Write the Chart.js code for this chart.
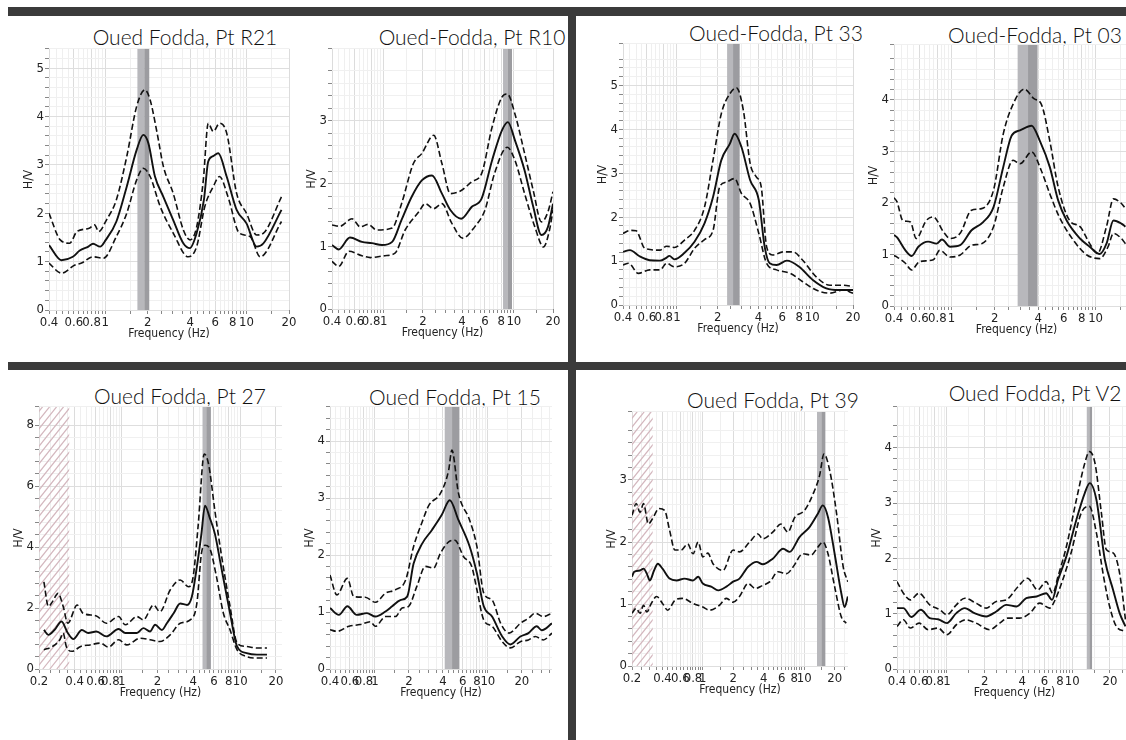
<!DOCTYPE html>
<html>
<head>
<meta charset="utf-8">
<script src="https://cdn.jsdelivr.net/npm/chart.js@4.4.1/dist/chart.umd.min.js"></script>
<style>
    body { margin: 0; background: #fff; }
    #page { position: relative; width: 1126px; height: 740px; overflow: hidden; background: #fff; }
    .bar { position: absolute; background: #3b3b3b; }
    .ttl { position: absolute; width: 300px; text-align: center; font-family: Lato, 'Open Sans', sans-serif;
           font-weight: 300; font-size: 21px; line-height: 24px; color: #111; white-space: nowrap; }
    canvas { position: absolute; }
</style>
</head>
<body>
<div id="page">
    <div class="bar" style="left:8px;top:7px;width:1118px;height:9px"></div>
    <div class="bar" style="left:8px;top:362px;width:1118px;height:8px"></div>
    <div class="bar" style="left:568px;top:7px;width:8px;height:733px"></div>
</div>
<script>
'use strict';

// tick labels shown on the frequency axis
var xTickLabels = [0.2, 0.4, 0.6, 0.8, 1, 2, 4, 6, 8, 10, 20];

// Pt R21
var r21MeanF = [0.4, 0.49, 0.59, 0.66, 0.76, 0.82, 0.92, 1.01, 1.2, 1.42, 1.67, 1.86, 2.02, 2.25, 2.58, 3.03, 3.57, 3.98, 4.44, 5.0, 5.36, 5.8, 6.31, 7.24, 8.52, 10, 11.8, 13.2, 17.7];
var r21Mean  = [1.34, 1.03, 1.10, 1.23, 1.31, 1.37, 1.31, 1.45, 1.83, 2.55, 3.31, 3.62, 3.45, 2.76, 2.34, 1.86, 1.38, 1.28, 1.59, 2.28, 3.07, 3.18, 3.24, 2.76, 2.07, 1.79, 1.31, 1.38, 2.07];
var r21HiF   = [0.4, 0.48, 0.56, 0.63, 0.77, 0.84, 0.9, 1.02, 1.2, 1.42, 1.67, 1.91, 2.08, 2.33, 2.58, 3.03, 3.57, 3.98, 4.44, 4.95, 5.36, 5.82, 6.45, 7.24, 8.52, 10, 11.8, 13.2, 17.7];
var r21Hi    = [2.0, 1.45, 1.38, 1.62, 1.69, 1.76, 1.62, 1.86, 2.28, 3.17, 4.21, 4.55, 4.34, 3.66, 2.97, 2.41, 1.66, 1.45, 1.72, 2.69, 3.86, 3.69, 3.86, 3.66, 2.41, 2.0, 1.55, 1.59, 2.34];
var r21LoF   = [0.4, 0.49, 0.61, 0.68, 0.82, 0.97, 1.2, 1.42, 1.67, 1.86, 2.08, 2.45, 3.03, 3.87, 4.44, 5.07, 5.82, 6.45, 7.4, 8.9, 10.6, 12.5, 17.7];
var r21Lo    = [0.97, 0.76, 0.93, 0.97, 1.10, 1.07, 1.52, 2.0, 2.69, 2.93, 2.76, 2.14, 1.59, 1.10, 1.31, 2.14, 2.55, 2.76, 2.34, 1.59, 1.52, 1.10, 1.83];
var r21Band  = [1.69, 1.89, 2.05];

// Pt R10
var r10MeanF = [0.4, 0.45, 0.55, 0.68, 0.81, 0.97, 1.16, 1.37, 1.64, 1.96, 2.35, 2.8, 3.25, 3.94, 4.75, 5.65, 6.8, 8.1, 9.0, 10.2, 12.1, 14.1, 16.3, 18.3, 20];
var r10Mean  = [1.02, 0.95, 1.14, 1.07, 1.05, 1.02, 1.07, 1.42, 1.79, 2.05, 2.13, 1.84, 1.58, 1.44, 1.63, 1.76, 2.37, 2.85, 2.98, 2.69, 2.21, 1.63, 1.18, 1.31, 1.68];
var r10HiF   = [0.4, 0.46, 0.57, 0.66, 0.76, 0.88, 1.16, 1.37, 1.69, 1.96, 2.42, 2.8, 3.25, 3.94, 4.75, 5.65, 6.8, 8.1, 8.9, 10.2, 12.1, 14.1, 16.3, 18.3, 20];
var r10Hi    = [1.34, 1.32, 1.44, 1.31, 1.35, 1.26, 1.29, 1.68, 2.32, 2.48, 2.77, 2.32, 1.84, 1.89, 2.03, 2.16, 2.90, 3.38, 3.43, 3.11, 2.48, 1.89, 1.39, 1.55, 1.87];
var r10LoF   = [0.4, 0.45, 0.54, 0.68, 0.79, 1.02, 1.22, 1.46, 1.86, 2.08, 2.42, 2.8, 3.33, 4.05, 5.0, 6.0, 7.1, 8.9, 10.2, 12.1, 14.5, 16.9, 18.8, 20];
var r10Lo    = [0.76, 0.68, 0.92, 0.85, 0.82, 0.85, 0.89, 1.26, 1.55, 1.68, 1.60, 1.68, 1.37, 1.13, 1.31, 1.58, 2.16, 2.58, 2.37, 1.84, 1.31, 0.99, 1.26, 1.58];
var r10Band  = [8.26, 8.95, 9.68];

// Pt 33
var p33MeanF = [0.4, 0.45, 0.53, 0.63, 0.75, 0.84, 0.88, 0.96, 1.14, 1.35, 1.6, 1.85, 2.13, 2.46, 2.67, 3.0, 3.48, 4.03, 4.45, 4.85, 5.45, 6.5, 8.0, 10.1, 12.7, 15.8, 20];
var p33Mean  = [1.21, 1.25, 1.11, 1.02, 1.01, 1.08, 1.12, 1.04, 1.19, 1.44, 1.86, 2.46, 3.30, 3.67, 3.90, 3.60, 2.84, 2.39, 1.33, 0.95, 0.91, 1.01, 0.87, 0.57, 0.38, 0.34, 0.34];
var p33HiF   = [0.4, 0.45, 0.5, 0.58, 0.75, 0.84, 0.96, 1.14, 1.35, 1.6, 1.85, 2.13, 2.46, 2.75, 3.1, 3.48, 3.86, 4.2, 4.6, 5.1, 6.1, 7.2, 8.5, 10.7, 13.5, 16.9, 20];
var p33Hi    = [1.63, 1.70, 1.69, 1.29, 1.25, 1.34, 1.31, 1.48, 1.70, 2.23, 3.30, 4.36, 4.81, 4.95, 4.43, 3.22, 2.92, 2.69, 1.33, 1.14, 1.21, 1.21, 1.02, 0.64, 0.45, 0.45, 0.42];
var p33LoF   = [0.4, 0.44, 0.52, 0.63, 0.75, 0.84, 0.96, 1.14, 1.35, 1.6, 1.85, 2.07, 2.32, 2.67, 3.0, 3.48, 4.03, 4.6, 5.45, 6.9, 8.5, 10.7, 13.5, 16.9, 20];
var p33Lo    = [0.91, 0.95, 0.72, 0.80, 0.80, 0.95, 0.87, 0.95, 1.29, 1.49, 1.70, 2.69, 2.80, 2.88, 2.54, 2.31, 1.63, 0.95, 0.80, 0.72, 0.53, 0.34, 0.27, 0.34, 0.27];
var p33Band  = [2.35, 2.60, 2.91];

// Pt 03
var p03MeanF = [0.4, 0.42, 0.48, 0.53, 0.59, 0.69, 0.79, 0.86, 0.98, 1.15, 1.38, 1.66, 1.96, 2.29, 2.62, 2.99, 3.6, 4.1, 4.81, 5.5, 6.3, 7.8, 9.1, 10.7, 11.9, 13.3, 15.1, 16.1];
var p03Mean  = [1.38, 1.33, 1.08, 0.97, 1.15, 1.25, 1.21, 1.29, 1.15, 1.18, 1.47, 1.63, 1.92, 2.70, 3.31, 3.41, 3.50, 3.21, 2.70, 2.05, 1.66, 1.31, 1.15, 1.01, 1.21, 1.66, 1.60, 1.54];
var p03HiF   = [0.4, 0.42, 0.46, 0.52, 0.57, 0.67, 0.75, 0.88, 0.98, 1.15, 1.38, 1.62, 1.96, 2.29, 2.68, 3.2, 3.76, 4.2, 4.81, 5.5, 6.6, 7.8, 9.1, 10.3, 11.9, 13.3, 15.1, 16.1];
var p03Hi    = [2.1, 2.02, 1.66, 1.63, 1.31, 1.66, 1.73, 1.44, 1.31, 1.41, 1.86, 1.89, 2.25, 3.34, 3.92, 4.21, 4.02, 3.92, 3.21, 2.31, 1.66, 1.54, 1.21, 1.02, 1.54, 2.08, 1.99, 1.89];
var p03LoF   = [0.4, 0.42, 0.48, 0.53, 0.6, 0.75, 0.83, 0.98, 1.15, 1.38, 1.62, 1.96, 2.29, 2.68, 2.99, 3.6, 4.2, 4.81, 5.6, 7.0, 8.7, 10.7, 12.2, 13.3, 15.1, 16.1];
var p03Lo    = [0.98, 0.95, 0.83, 0.70, 0.86, 0.90, 1.08, 0.95, 0.99, 1.18, 1.21, 1.54, 2.31, 2.83, 2.76, 2.99, 2.63, 2.18, 1.73, 1.28, 0.99, 0.92, 1.15, 1.41, 1.31, 1.21];
var p03Band  = [2.88, 3.40, 3.96];

// Pt 27
var p27MeanF = [0.22, 0.24, 0.27, 0.31, 0.35, 0.39, 0.46, 0.52, 0.61, 0.74, 0.94, 1.07, 1.34, 1.52, 1.73, 1.91, 2.18, 2.4, 2.74, 3.11, 3.55, 3.9, 4.3, 4.7, 5.04, 5.5, 6.1, 6.9, 8.2, 9.4, 11.3, 13.8, 16.8];
var p27Mean  = [1.28, 1.12, 1.28, 1.56, 1.18, 0.98, 1.28, 1.18, 1.23, 1.07, 1.31, 1.18, 1.18, 1.34, 1.23, 1.45, 1.28, 1.50, 1.83, 2.15, 2.10, 2.37, 3.35, 4.44, 5.36, 4.98, 4.44, 3.35, 1.83, 0.74, 0.52, 0.47, 0.47];
var p27HiF   = [0.22, 0.24, 0.26, 0.29, 0.32, 0.35, 0.42, 0.47, 0.61, 0.74, 0.94, 1.07, 1.34, 1.52, 1.85, 2.1, 2.56, 3.11, 3.66, 4.0, 4.4, 4.97, 5.4, 6.1, 6.9, 8.2, 9.4, 11.3, 13.8, 16.8];
var p27Hi    = [2.86, 2.05, 2.21, 2.48, 2.05, 1.50, 2.10, 1.83, 1.74, 1.50, 1.72, 1.45, 1.72, 1.61, 2.10, 1.88, 2.59, 2.92, 2.70, 3.02, 4.66, 7.05, 6.72, 5.20, 3.79, 2.05, 0.85, 0.74, 0.69, 0.69];
var p27LoF   = [0.22, 0.26, 0.3, 0.32, 0.34, 0.38, 0.45, 0.54, 0.66, 0.77, 0.94, 1.1, 1.43, 1.73, 2.1, 2.56, 3.11, 3.78, 4.3, 4.7, 5.04, 5.6, 6.3, 7.2, 8.2, 9.4, 11.3, 13.8, 16.8];
var p27Lo    = [0.63, 0.74, 0.96, 1.18, 0.74, 0.58, 0.74, 0.79, 0.85, 0.72, 0.96, 0.79, 1.01, 0.96, 0.90, 1.12, 1.50, 1.61, 2.15, 3.79, 4.06, 3.90, 3.02, 1.83, 1.28, 0.63, 0.41, 0.36, 0.36];
var p27Band  = [4.80, 5.16, 5.65];
var p27Hatch = [0.2, 0.36];

// Pt 15
var p15MeanF = [0.4, 0.48, 0.57, 0.69, 0.85, 1.01, 1.24, 1.42, 1.68, 1.93, 2.2, 2.62, 3.2, 3.9, 4.6, 5.5, 6.9, 8.0, 9.2, 10.9, 13.4, 15.8, 19.4, 22.9, 27.1, 30, 37];
var p15Mean  = [1.07, 0.95, 1.10, 0.95, 0.98, 0.92, 1.01, 1.10, 1.21, 1.27, 1.85, 2.20, 2.44, 2.70, 2.96, 2.61, 2.15, 1.68, 1.10, 0.92, 0.57, 0.43, 0.57, 0.63, 0.75, 0.68, 0.80];
var p15HiF   = [0.4, 0.46, 0.57, 0.65, 0.82, 1.01, 1.24, 1.52, 1.87, 2.2, 2.62, 3.0, 3.8, 4.5, 4.8, 5.5, 6.9, 8.0, 9.2, 10.9, 13.0, 15.4, 19.4, 22.9, 26.3, 31, 37];
var p15Hi    = [1.65, 1.30, 1.59, 1.27, 1.26, 1.17, 1.33, 1.39, 1.56, 2.15, 2.58, 2.87, 3.08, 3.49, 3.84, 3.08, 2.61, 2.15, 1.33, 1.21, 0.80, 0.63, 0.80, 0.89, 0.98, 0.92, 0.98];
var p15LoF   = [0.4, 0.46, 0.59, 0.74, 0.91, 1.01, 1.24, 1.52, 1.74, 1.99, 2.35, 2.8, 3.3, 3.8, 4.5, 5.1, 6.1, 7.2, 8.0, 9.2, 10.9, 13.4, 15.8, 19.4, 22.9, 26.3, 31, 37];
var p15Lo    = [0.69, 0.66, 0.75, 0.78, 0.83, 0.75, 0.92, 0.92, 1.07, 1.10, 1.45, 1.80, 1.77, 2.03, 2.23, 2.26, 1.97, 1.80, 1.39, 0.86, 0.75, 0.48, 0.37, 0.48, 0.51, 0.57, 0.51, 0.63];
var p15Band  = [4.15, 4.82, 5.60];

// Pt 39
var p39MeanF = [0.2, 0.21, 0.24, 0.26, 0.28, 0.3, 0.33, 0.36, 0.4, 0.47, 0.55, 0.66, 0.8, 0.9, 1.0, 1.21, 1.42, 1.71, 1.99, 2.3, 2.8, 3.4, 3.9, 4.9, 6.2, 7.2, 9.0, 11.3, 13.7, 15.3, 17.2, 20, 23.3, 25.1, 27];
var p39Mean  = [1.44, 1.52, 1.54, 1.57, 1.49, 1.38, 1.54, 1.65, 1.57, 1.41, 1.38, 1.41, 1.38, 1.44, 1.33, 1.28, 1.22, 1.28, 1.36, 1.41, 1.60, 1.68, 1.64, 1.73, 1.89, 1.84, 2.08, 2.24, 2.46, 2.59, 2.40, 1.81, 1.17, 0.95, 1.12];
var p39HiF   = [0.2, 0.22, 0.24, 0.26, 0.29, 0.32, 0.37, 0.42, 0.47, 0.53, 0.61, 0.71, 0.8, 0.9, 1.0, 1.12, 1.26, 1.58, 1.99, 2.3, 2.9, 3.5, 3.9, 4.9, 5.9, 6.9, 8.1, 10.1, 12.3, 14.2, 15.7, 17.9, 20.9, 24.3, 27];
var p39Hi    = [2.43, 2.62, 2.48, 2.62, 2.29, 2.38, 2.54, 2.51, 2.19, 1.87, 1.87, 1.97, 1.81, 2.00, 1.76, 1.82, 1.65, 1.54, 1.87, 1.84, 2.00, 2.13, 2.05, 2.16, 2.29, 2.16, 2.40, 2.51, 2.78, 3.07, 3.42, 3.15, 2.46, 1.60, 1.36];
var p39LoF   = [0.2, 0.22, 0.24, 0.26, 0.28, 0.31, 0.35, 0.4, 0.45, 0.53, 0.63, 0.8, 1.0, 1.16, 1.46, 1.71, 1.99, 2.3, 2.8, 3.3, 3.9, 4.6, 5.5, 6.7, 7.8, 9.7, 11.7, 13.7, 15.3, 17.2, 20, 23.3, 26];
var p39Lo    = [0.85, 0.93, 0.85, 0.98, 0.87, 1.01, 1.12, 1.01, 0.90, 1.06, 1.09, 1.01, 0.95, 0.90, 0.98, 1.09, 1.03, 1.12, 1.33, 1.25, 1.30, 1.36, 1.52, 1.49, 1.60, 1.81, 1.79, 1.92, 2.00, 1.81, 1.28, 0.79, 0.69];
var p39Band  = [13.4, 14.8, 16.2];
var p39Hatch = [0.2, 0.32];

// Pt V2
var v2MeanF = [0.4, 0.45, 0.52, 0.62, 0.73, 0.85, 1.0, 1.19, 1.39, 1.66, 2.06, 2.48, 2.98, 3.6, 4.3, 5.2, 6.2, 6.9, 7.7, 9.0, 10.8, 12.6, 13.8, 15.6, 18.2, 21.2, 23.9, 26.6];
var v2Mean  = [1.10, 1.10, 0.94, 1.07, 0.92, 0.90, 0.83, 1.01, 1.10, 1.01, 0.95, 1.04, 1.16, 1.13, 1.28, 1.31, 1.37, 1.25, 1.61, 2.04, 2.70, 3.18, 3.36, 3.06, 1.98, 1.43, 1.01, 0.77];
var v2HiF   = [0.4, 0.45, 0.51, 0.6, 0.73, 0.88, 1.0, 1.19, 1.39, 1.71, 2.06, 2.48, 2.98, 3.7, 4.4, 5.3, 6.2, 7.0, 7.7, 9.0, 10.8, 12.6, 13.7, 15.2, 17.1, 18.7, 21.2, 23.9, 26.6];
var v2Hi    = [1.58, 1.37, 1.25, 1.37, 1.16, 1.07, 0.98, 1.16, 1.28, 1.19, 1.10, 1.22, 1.25, 1.49, 1.64, 1.43, 1.58, 1.37, 1.67, 2.22, 3.06, 3.72, 3.93, 3.72, 2.82, 2.16, 2.10, 1.73, 0.89];
var v2LoF   = [0.4, 0.45, 0.51, 0.6, 0.71, 0.85, 1.0, 1.19, 1.42, 1.71, 2.19, 2.64, 3.06, 3.8, 4.6, 5.5, 6.6, 7.2, 8.4, 9.8, 11.8, 13.7, 15.6, 17.8, 19.9, 22.5, 26.6];
var v2Lo    = [0.77, 0.89, 0.74, 0.83, 0.71, 0.74, 0.62, 0.80, 0.89, 0.83, 0.71, 0.83, 0.92, 0.92, 1.01, 1.19, 1.10, 1.22, 1.61, 2.10, 2.82, 2.94, 2.46, 1.67, 1.13, 0.77, 0.68];
var v2Band  = [13.07, 13.7, 14.4];

// layout of the eight panels: plot area (left, right, top, bottom) in page pixels
var panels = [
    {title: 'Oued Fodda, Pt R21', tx: 185, ty: 37, L: 49, R: 289, T: 48, B: 310, xmin: 0.4, xmax: 20, ymax: 5.4, ystep: 0.2, ylab: 1,
     mean: [r21MeanF, r21Mean], hi: [r21HiF, r21Hi], lo: [r21LoF, r21Lo], band: r21Band},
    {title: 'Oued-Fodda, Pt R10', tx: 472, ty: 37, L: 332, R: 553, T: 48, B: 309, xmin: 0.4, xmax: 20, ymax: 4.15, ystep: 0.2, ylab: 1,
     mean: [r10MeanF, r10Mean], hi: [r10HiF, r10Hi], lo: [r10LoF, r10Lo], band: r10Band},
    {title: 'Oued-Fodda, Pt 33', tx: 776, ty: 33, L: 623, R: 853, T: 43, B: 305, xmin: 0.4, xmax: 20, ymax: 5.95, ystep: 0.2, ylab: 1,
     mean: [p33MeanF, p33Mean], hi: [p33HiF, p33Hi], lo: [p33LoF, p33Lo], band: p33Band},
    {title: 'Oued-Fodda, Pt 03', tx: 1035, ty: 35, L: 894, R: 1139, T: 44, B: 306, xmin: 0.4, xmax: 20, ymax: 5.07, ystep: 0.2, ylab: 1,
     mean: [p03MeanF, p03Mean], hi: [p03HiF, p03Hi], lo: [p03LoF, p03Lo], band: p03Band},
    {title: 'Oued Fodda, Pt 27', tx: 180, ty: 396, L: 39, R: 282, T: 406, B: 669, xmin: 0.2, xmax: 22.5, ymax: 8.6, ystep: 0.4, ylab: 2,
     mean: [p27MeanF, p27Mean], hi: [p27HiF, p27Hi], lo: [p27LoF, p27Lo], band: p27Band, hatch: p27Hatch},
    {title: 'Oued Fodda, Pt 15', tx: 455, ty: 397, L: 330, R: 552, T: 406, B: 669, xmin: 0.4, xmax: 37, ymax: 4.6, ystep: 0.2, ylab: 1,
     mean: [p15MeanF, p15Mean], hi: [p15HiF, p15Hi], lo: [p15LoF, p15Lo], band: p15Band},
    {title: 'Oued Fodda, Pt 39', tx: 773, ty: 400, L: 632, R: 848, T: 411, B: 666, xmin: 0.2, xmax: 27.1, ymax: 4.1, ystep: 0.2, ylab: 1,
     mean: [p39MeanF, p39Mean], hi: [p39HiF, p39Hi], lo: [p39LoF, p39Lo], band: p39Band, hatch: p39Hatch},
    {title: 'Oued Fodda, Pt V2', tx: 1035, ty: 393, L: 897, R: 1132, T: 406, B: 669, xmin: 0.4, xmax: 30, ymax: 4.74, ystep: 0.2, ylab: 1,
     mean: [v2MeanF, v2Mean], hi: [v2HiF, v2Hi], lo: [v2LoF, v2Lo], band: v2Band}
];

var tickFont = {family: "'Liberation Sans Narrow', 'DejaVu Sans Condensed', Roboto, sans-serif", size: 13};
var titleFont = {family: "'Liberation Sans Narrow', 'DejaVu Sans Condensed', Roboto, sans-serif", size: 12};
var YW = 27, XH = 31, PT = 8, PR = 15;

// minor frequency ticks for the log axis
var xMinor = [];
(function () {
    var i;
    for (i = 4; i <= 20; i++) xMinor.push(Math.round(i * 5) / 100);
    for (i = 3; i <= 20; i++) xMinor.push(i / 2);
    for (i = 3; i <= 10; i++) xMinor.push(i * 5);
})();

function isLabelled(v) {
    for (var i = 0; i < xTickLabels.length; i++) {
        if (Math.abs(xTickLabels[i] - v) < 1e-9) return true;
    }
    return false;
}

function pts(fs, vs) {
    return fs.map(function (f, i) { return {x: f, y: vs[i]}; });
}

var shadePlugin = {
    id: 'shade',
    beforeDatasetsDraw: function (chart, args, opts) {
        var ctx = chart.ctx, a = chart.chartArea, x = chart.scales.x;
        ctx.save();
        ctx.beginPath();
        ctx.rect(a.left, a.top, a.right - a.left, a.bottom - a.top);
        ctx.clip();
        if (opts.hatch) {
            var h0 = x.getPixelForValue(opts.hatch[0]), h1 = x.getPixelForValue(opts.hatch[1]);
            var hgt = a.bottom - a.top;
            ctx.save();
            ctx.beginPath();
            ctx.rect(h0, a.top, h1 - h0, hgt);
            ctx.clip();
            ctx.strokeStyle = '#d3b6bd';
            ctx.lineWidth = 1.2;
            for (var k = h0 - hgt; k < h1; k += 7) {
                ctx.beginPath();
                ctx.moveTo(k, a.bottom);
                ctx.lineTo(k + hgt * 0.8, a.top);
                ctx.stroke();
            }
            ctx.restore();
        }
        if (opts.band) {
            var b0 = x.getPixelForValue(opts.band[0]);
            var b1 = x.getPixelForValue(opts.band[1]);
            var b2 = x.getPixelForValue(opts.band[2]);
            ctx.fillStyle = '#b8b8bc';
            ctx.fillRect(b0, a.top, b1 - b0, a.bottom - a.top);
            ctx.fillStyle = '#9c9ca0';
            ctx.fillRect(b1, a.top, b2 - b1, a.bottom - a.top);
        }
        ctx.restore();
    }
};

var page = document.getElementById('page');

panels.forEach(function (p) {
    var t = document.createElement('div');
    t.className = 'ttl';
    t.textContent = p.title;
    t.style.left = (p.tx - 150) + 'px';
    t.style.top = (p.ty - 12) + 'px';
    page.appendChild(t);

    var cv = document.createElement('canvas');
    var w = Math.round(p.R - p.L + YW + PR);
    var h = Math.round(p.B - p.T + PT + XH);
    cv.style.left = (p.L - YW) + 'px';
    cv.style.top = (p.T - PT) + 'px';
    cv.style.width = w + 'px';
    cv.style.height = h + 'px';
    cv.width = w;
    cv.height = h;
    page.appendChild(cv);

    var lineStyle = function (d, dashed) {
        return {
            data: d,
            borderColor: '#111',
            borderWidth: dashed ? 1.6 : 1.9,
            borderDash: dashed ? [6, 3] : [],
            pointRadius: 0,
            cubicInterpolationMode: 'monotone',
            fill: false
        };
    };

    new Chart(cv, {
        type: 'line',
        data: {
            datasets: [
                lineStyle(pts(p.hi[0], p.hi[1]), true),
                lineStyle(pts(p.lo[0], p.lo[1]), true),
                lineStyle(pts(p.mean[0], p.mean[1]), false)
            ]
        },
        options: {
            responsive: false,
            animation: false,
            events: [],
            layout: {padding: {left: 0, right: PR, top: PT, bottom: 0}},
            plugins: {
                legend: {display: false},
                tooltip: {enabled: false},
                shade: {band: p.band, hatch: p.hatch}
            },
            scales: {
                x: {
                    type: 'logarithmic',
                    min: p.xmin,
                    max: p.xmax,
                    afterBuildTicks: function (s) {
                        s.ticks = xMinor.filter(function (v) {
                            return v >= p.xmin - 1e-9 && v <= p.xmax + 1e-9;
                        }).map(function (v) { return {value: v}; });
                    },
                    afterFit: function (s) { s.height = XH; },
                    ticks: {
                        autoSkip: false,
                        maxRotation: 0,
                        padding: 1,
                        color: '#222',
                        font: tickFont,
                        callback: function (v) { return isLabelled(v) ? String(v) : ''; }
                    },
                    grid: {
                        color: function (c) { return c.tick && isLabelled(c.tick.value) ? '#dcdcdc' : '#efefef'; },
                        tickLength: 4,
                        tickColor: '#888'
                    },
                    border: {display: false},
                    title: {display: true, text: 'Frequency (Hz)', color: '#222', font: titleFont, padding: 0}
                },
                y: {
                    type: 'linear',
                    min: 0,
                    max: p.ymax,
                    afterFit: function (s) { s.width = YW; },
                    ticks: {
                        stepSize: p.ystep,
                        autoSkip: false,
                        padding: 1,
                        color: '#222',
                        font: tickFont,
                        callback: function (v) {
                            var r = v / p.ylab;
                            return Math.abs(r - Math.round(r)) < 1e-6 ? String(Math.round(v)) : '';
                        }
                    },
                    grid: {
                        color: function (c) {
                            if (!c.tick) return '#efefef';
                            var r = c.tick.value / p.ylab;
                            return Math.abs(r - Math.round(r)) < 1e-6 ? '#dedede' : '#f0f0f0';
                        },
                        tickLength: 4,
                        tickColor: '#888'
                    },
                    border: {display: false},
                    title: {display: true, text: 'H/V', color: '#222', font: titleFont, padding: 0}
                }
            }
        },
        plugins: [shadePlugin]
    });
});
</script>
</body>
</html>
